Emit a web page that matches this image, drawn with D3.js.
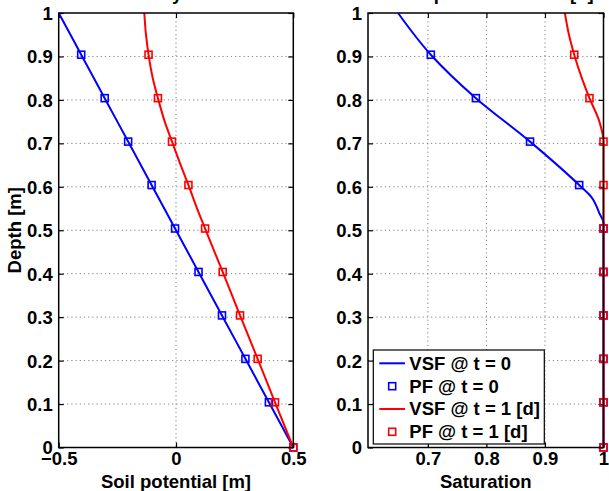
<!DOCTYPE html>
<html><head><meta charset="utf-8">
<script src="https://cdn.jsdelivr.net/npm/d3@7"></script>
<style>
body{margin:0;background:#fff}
text{font-family:"Liberation Sans",Arial,sans-serif;font-weight:bold;font-size:18.5px;fill:#000}
</style>
</head><body>
<svg id="c" width="609" height="491"></svg>
<script>
// ---------- data ----------
const depthTicks = [0,0.1,0.2,0.3,0.4,0.5,0.6,0.7,0.8,0.9,1];
const depthTickLabels = ["0","0.1","0.2","0.3","0.4","0.5","0.6","0.7","0.8","0.9","1"];
const potTicks = [-0.5,0,0.5];
const potTickLabels = ["\u22120.5","0","0.5"];
const satTicks = [0.7,0.8,0.9,1];
const satTickLabels = ["0.7","0.8","0.9","1"];

// VSF solution curves (depth, value)
const vsfPotDepth0 = [1.0,0.9,0.8,0.7,0.6,0.5,0.4,0.3,0.2,0.1,0.0];
const vsfPot0      = [-0.5,-0.4,-0.3,-0.2,-0.1,0.0,0.1,0.2,0.3,0.4,0.5];
const vsfPotDepth1 = [1.0,0.95,0.904,0.85,0.804,0.75,0.704,0.65,0.604,0.55,0.504,0.404,0.304,0.204,0.104,0.0];
const vsfPot1      = [-0.135,-0.128,-0.117,-0.099,-0.077,-0.048,-0.017,0.020,0.053,0.090,0.124,0.199,0.273,0.348,0.422,0.5];

const vsfSatDepth0 = [1.0,0.904,0.804,0.704,0.604,0.577,0.539,0.516,0.5,0.3,0.0];
const vsfSat0      = [0.649,0.705,0.782,0.8745,0.9585,0.979,0.993,1.0,1.0,1.0,1.0];
const vsfSatDepth1 = [1.0,0.95,0.904,0.85,0.804,0.75,0.704,0.604,0.3,0.0];
const vsfSat1      = [0.934,0.941,0.950,0.963,0.976,0.993,1.0,1.0,1.0,1.0];

// PF nodal values
const pfDepth = [0,0.104,0.204,0.304,0.404,0.504,0.604,0.704,0.804,0.904];
const pfPot0  = [0.5,0.396,0.296,0.196,0.096,-0.004,-0.104,-0.204,-0.304,-0.404];
const pfPot1  = [0.5,0.422,0.348,0.273,0.199,0.124,0.053,-0.017,-0.077,-0.117];
const pfSat0  = [1,1,1,1,1,1,0.9585,0.8745,0.782,0.705];
const pfSat1  = [1,1,1,1,1,1,1,1,0.976,0.950];

const legendLabels = ["VSF @ t = 0","PF @ t = 0","VSF @ t = 1 [d]","PF @ t = 1 [d]"];
const blue = "#0000ff", red = "#ff0000";

// ---------- drawing ----------
const svg = d3.select("#c");
const yTop = 13, yBot = 447.5;
const y = d3.scaleLinear().domain([0,1]).range([yBot, yTop]);

function panel(o){
  const g = svg.append("g");
  const x = d3.scaleLinear().domain(o.xDomain).range([o.left, o.right]);
  // grid
  g.selectAll("line.gx").data(o.xTicks.filter(v=>x(v)>o.left+1 && x(v)<o.right-1)).join("line")
    .attr("x1",d=>x(d)).attr("x2",d=>x(d)).attr("y1",yTop).attr("y2",yBot)
    .attr("stroke","#808080").attr("stroke-width",1).attr("stroke-dasharray","1.2,3");
  g.selectAll("line.gy").data(depthTicks.filter(v=>v>0&&v<1)).join("line")
    .attr("x1",o.left).attr("x2",o.right).attr("y1",d=>y(d)).attr("y2",d=>y(d))
    .attr("stroke","#808080").attr("stroke-width",1).attr("stroke-dasharray","1.2,3");
  // axes with ticks (inward) on all sides
  const tl = 5;
  const axB = d3.axisBottom(x).tickValues(o.xTicks).tickSize(-tl).tickFormat((d,i)=>o.xLabels[i]).tickPadding(8);
  const axT = d3.axisTop(x).tickValues(o.xTicks).tickSize(-tl).tickFormat("");
  const axL = d3.axisLeft(y).tickValues(depthTicks).tickSize(-tl).tickFormat((d,i)=>depthTickLabels[i]).tickPadding(6);
  const axR = d3.axisRight(y).tickValues(depthTicks).tickSize(-tl).tickFormat("");
  const styleAx = sel => { sel.select(".domain").remove(); sel.selectAll(".tick line").attr("stroke","#000").attr("stroke-width",1.2); sel.attr("font-size",null).attr("font-family",null); };
  g.append("g").attr("transform",`translate(0,${yBot})`).call(axB).call(styleAx)
    .selectAll("text").attr("dy",null).attr("y",17.5);
  g.append("g").attr("transform",`translate(0,${yTop})`).call(axT).call(styleAx);
  g.append("g").attr("transform",`translate(${o.left},0)`).call(axL).call(styleAx)
    .selectAll("text").attr("x",-6).attr("dy","0.35em");
  g.append("g").attr("transform",`translate(${o.right},0)`).call(axR).call(styleAx);

  const sq = 7;
  o.series.forEach(s=>{
    const line = d3.line().x(d=>x(d[1])).y(d=>y(d[0])).curve(d3.curveMonotoneY);
    g.append("path").datum(s.lineDepth.map((d,i)=>[d,s.lineVal[i]]))
      .attr("d",line).attr("fill","none").attr("stroke",s.color).attr("stroke-width",2);
    g.selectAll(null).data(pfDepth.map((d,i)=>[d,s.pf[i]])).join("rect")
      .attr("x",d=>x(d[1])-sq/2).attr("y",d=>y(d[0])-sq/2).attr("width",sq).attr("height",sq)
      .attr("fill","none").attr("stroke",s.color).attr("stroke-width",1.6);
  });
  // box
  g.append("rect").attr("x",o.left).attr("y",yTop).attr("width",o.right-o.left).attr("height",yBot-yTop)
    .attr("fill","none").attr("stroke","#000").attr("stroke-width",1.5);
  // labels
  g.append("text").attr("x",(o.left+o.right)/2).attr("y",487.5).attr("text-anchor","middle").text(o.xTitle);
  g.append("text").attr("x",(o.left+o.right)/2).attr("y",-0.5).attr("text-anchor","middle").text(o.title);
  return {g,x};
}

const p1 = panel({left:58.7,right:293.3,xDomain:[-0.5,0.5],xTicks:potTicks,xLabels:potTickLabels,
  xTitle:"Soil potential [m]", title:"Steady state",
  series:[{lineDepth:vsfPotDepth0,lineVal:vsfPot0,pf:pfPot0,color:blue},
          {lineDepth:vsfPotDepth1,lineVal:vsfPot1,pf:pfPot1,color:red}]});
svg.append("text").attr("transform","translate(21,230.25) rotate(-90)").attr("text-anchor","middle").text("Depth [m]");

const p2 = panel({left:368,right:603.5,xDomain:[0.5977,1],xTicks:satTicks,xLabels:satTickLabels,
  xTitle:"Saturation", title:"Water profiles at t = 1 [d]",
  series:[{lineDepth:vsfSatDepth0,lineVal:vsfSat0,pf:pfSat0,color:blue},
          {lineDepth:vsfSatDepth1,lineVal:vsfSat1,pf:pfSat1,color:red}]});

// legend
const lg = svg.append("g");
lg.append("rect").attr("x",373.3).attr("y",350).attr("width",171).attr("height",94)
  .attr("fill","#fff").attr("stroke","#000").attr("stroke-width",1.2);
const rowsY = [363.3,386.2,409,431.8];
const legColors = [blue,blue,red,red];
legendLabels.forEach((t,i)=>{
  const cy = rowsY[i];
  if(i%2===0){
    lg.append("line").attr("x1",379.3).attr("x2",405).attr("y1",cy).attr("y2",cy)
      .attr("stroke",legColors[i]).attr("stroke-width",2);
  } else {
    lg.append("rect").attr("x",392.2-3.5).attr("y",cy-3.5).attr("width",7).attr("height",7)
      .attr("fill","none").attr("stroke",legColors[i]).attr("stroke-width",1.6);
  }
  lg.append("text").attr("x",409.3).attr("y",cy).attr("dy","0.35em").text(t);
});
</script>
</body></html>
